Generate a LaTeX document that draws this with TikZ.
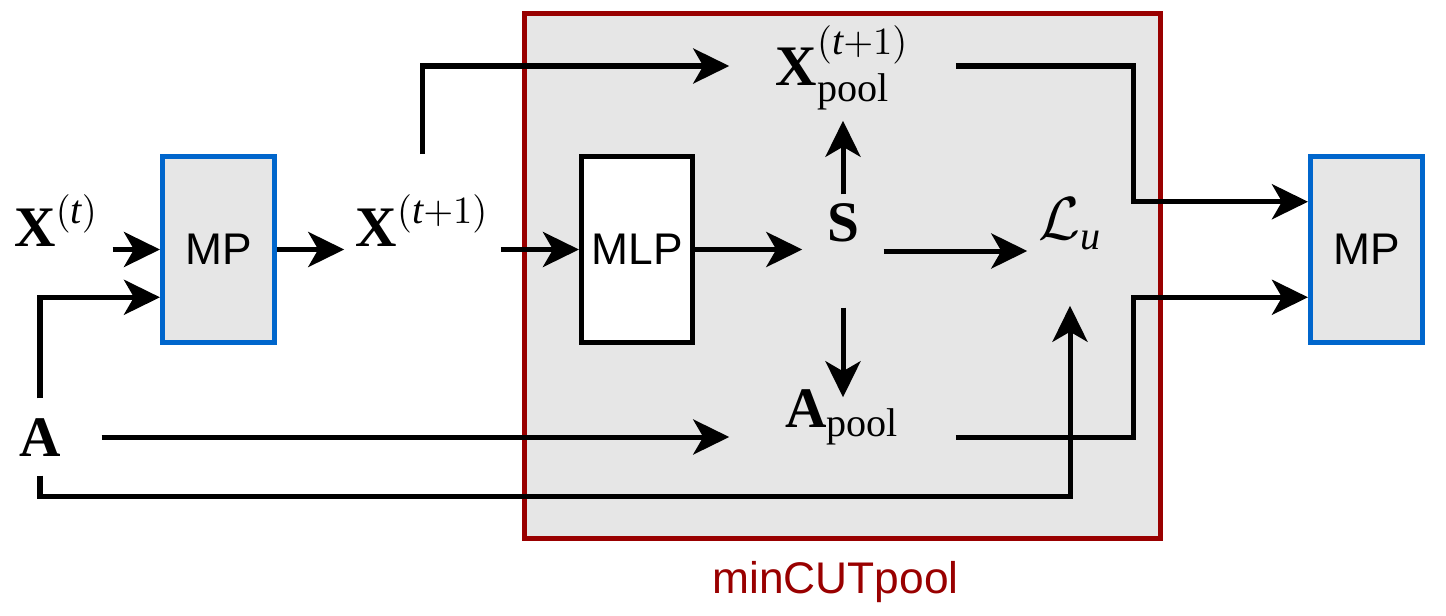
\documentclass[tikz,border=0pt]{standalone}
\usepackage{amsmath, amssymb}
\usepackage{fontspec}
\setmainfont{Liberation Serif}
\newfontfamily\sansfont{Liberation Sans}
\usepackage{xcolor}
\usepackage{tikz}
\usetikzlibrary{arrows.meta, positioning, calc}

\definecolor{mpblue}{HTML}{0066CC}
\definecolor{boxgray}{HTML}{E6E6E6}
\definecolor{cutred}{HTML}{990000}

\begin{document}
\begin{tikzpicture}[x=0.01cm, y=-0.01cm,
        box/.style={draw, line width=0.05cm, inner sep=0pt,
            minimum width=1.12cm, minimum height=1.86cm,
            font=\sansfont\fontsize{12.6}{14}\selectfont},
        mpbox/.style={box, draw=mpblue, fill=boxgray},
        sym/.style={inner sep=0pt, font=\fontsize{16.3}{19}\selectfont},
        arr/.style={-{Stealth[length=0.36cm, width=0.35cm, inset=0.1cm]}, line width=0.05cm}]

            \useasboundingbox (0,0) rectangle (1446,615);

            % minCUTpool block
            \node[draw=cutred, fill=boxgray, line width=0.05cm, minimum width=6.36cm, minimum height=5.25cm] (mcut) at (842.5,276) {};
            \node[below=0.2cm of mcut, xshift=-0.07cm, inner sep=0pt, text=cutred, font=\sansfont\fontsize{12.6}{14}\selectfont] (cutlbl) {minCUTpool};

            \node[mpbox] (mpl) at (218.5,249.5) {MP};
            \node[mpbox] (mpr) at (1366.5,249.5) {MP};
            \node[box, fill=white, minimum width=1.11cm] (mlp) at (637,249.5) {MLP};

            \node[sym, minimum width=1.11cm, text height=0.5cm, text depth=0.62cm] (xt) at (56.5,252) {$\mathbf{X}^{(\mathit{t})}$};
            \node[sym, minimum width=1.22cm, text height=0.57cm, text depth=0.19cm] (a) at (40,437) {$\mathbf{A}$};
            \node[sym, minimum width=1.55cm, text height=0.91cm, text depth=1.03cm] (xtt) at (422.5,252) {$\mathbf{X}^{(\mathit{t}+1)}$};
            \node[sym, minimum width=2.25cm, text height=0.73cm, text depth=0.35cm] (xpool) at (842.5,66) {$\mathbf{X}^{(\mathit{t}+1)}_{\mathrm{pool}}$};
            \node[sym, minimum width=0.8cm, text height=0.47cm, text depth=0.65cm] (s) at (843,251) {$\mathbf{S}$};
            \node[sym, minimum width=0.84cm, text height=0.43cm, text depth=0.65cm] (lu) at (1070,251) {$\mathcal{L}_{\mathit{u}}$};
            \node[sym, minimum width=2.25cm, text height=0.29cm, text depth=0.49cm] (apool) at (842.5,437) {$\mathbf{A}_{\mathrm{pool}}$};

            % inputs
            \draw[arr] (xt.east |- mpl.west) -- (mpl.west);
            \draw[arr] (a.north) |- ($(mpl.north west)!0.75!(mpl.south west)$);
            \draw[arr] (mpl.east) -- (xtt.west |- mpl.east);

            % inside the pooling block
            \draw[arr] (xtt.north) |- (xpool.west);
            \draw[arr] (xtt.east |- mlp.west) -- (mlp.west);
            \draw[arr] (mlp.east) -- (s.west |- mlp.east);
            \draw[arr] (s.north) -- (s.north |- xpool.south);
            \draw[arr] (s.east) -- (lu.west);
            \draw[arr] (s.south) -- (s.south |- apool.north);
            \draw[arr] (a.east) -- (apool.west);
            \draw[arr] (a.south) -- ++(0,21) -| (lu.south);

            % outputs
            \draw[arr] (xpool.east) -- ++(178,0) |- ($(mpr.north west)!0.25!(mpr.south west)$);
            \draw[arr] (apool.east) -- ++(178,0) |- ($(mpr.north west)!0.75!(mpr.south west)$);
        \end{tikzpicture}
\end{document}
